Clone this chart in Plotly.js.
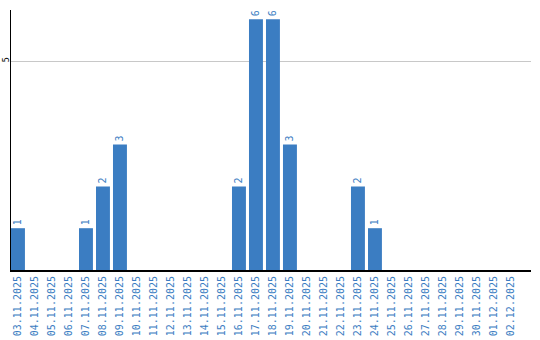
<!DOCTYPE html>
<html>
<head>
<meta charset="utf-8">
<script src="https://cdn.plot.ly/plotly-3.0.1.min.js"></script>
<style>html,body{margin:0;padding:0;background:#fff;}#chart{width:540px;height:340px;}</style>
</head>
<body>
<div id="chart"></div>
<script>
const dates = ["03.11.2025","04.11.2025","05.11.2025","06.11.2025","07.11.2025","08.11.2025","09.11.2025","10.11.2025","11.11.2025","12.11.2025","13.11.2025","14.11.2025","15.11.2025","16.11.2025","17.11.2025","18.11.2025","19.11.2025","20.11.2025","21.11.2025","22.11.2025","23.11.2025","24.11.2025","25.11.2025","26.11.2025","27.11.2025","28.11.2025","29.11.2025","30.11.2025","01.12.2025","02.12.2025"];
const counts = [1,0,0,0,1,2,3,0,0,0,0,0,0,2,6,6,3,0,0,0,2,1,0,0,0,0,0,0,0,0];
const yTicks = [5];

const blue = '#3b7dc2';
const trace = {
  type: 'bar',
  x: dates,
  y: counts,
  text: counts.map(v => v > 0 ? String(v) : ''),
  textposition: 'outside',
  textangle: -90,
  cliponaxis: false,
  textfont: {family: 'DejaVu Sans Mono', size: 10, color: blue},
  marker: {color: blue, line: {width: 0}},
  hoverinfo: 'none'
};
const layout = {
  width: 540, height: 340,
  margin: {l: 11, r: 9, t: 10, b: 70},
  paper_bgcolor: '#fff', plot_bgcolor: '#fff',
  bargap: 0.18,
  showlegend: false,
  xaxis: {
    type: 'category',
    range: [-0.41, 30.18],
    tickangle: -90,
    tickfont: {family: 'DejaVu Sans Mono', size: 10, color: blue},
    showgrid: false,
    showline: true, linecolor: '#000', linewidth: 2,
    ticks: '', zeroline: false
  },
  yaxis: {
    range: [0, 6.22],
    tickvals: yTicks,
    ticktext: yTicks.map(String),
    tickangle: -90,
    ticklabelstandoff: -3,
    tickfont: {family: 'DejaVu Sans', size: 8, color: '#000'},
    showgrid: true, gridcolor: '#c8c8c8', gridwidth: 1,
    showline: true, linecolor: '#000', linewidth: 1.5,
    zeroline: false, ticks: '', ticklen: 0
  }
};
Plotly.newPlot('chart', [trace], layout, {staticPlot: true, displayModeBar: false});
</script>
</body>
</html>
